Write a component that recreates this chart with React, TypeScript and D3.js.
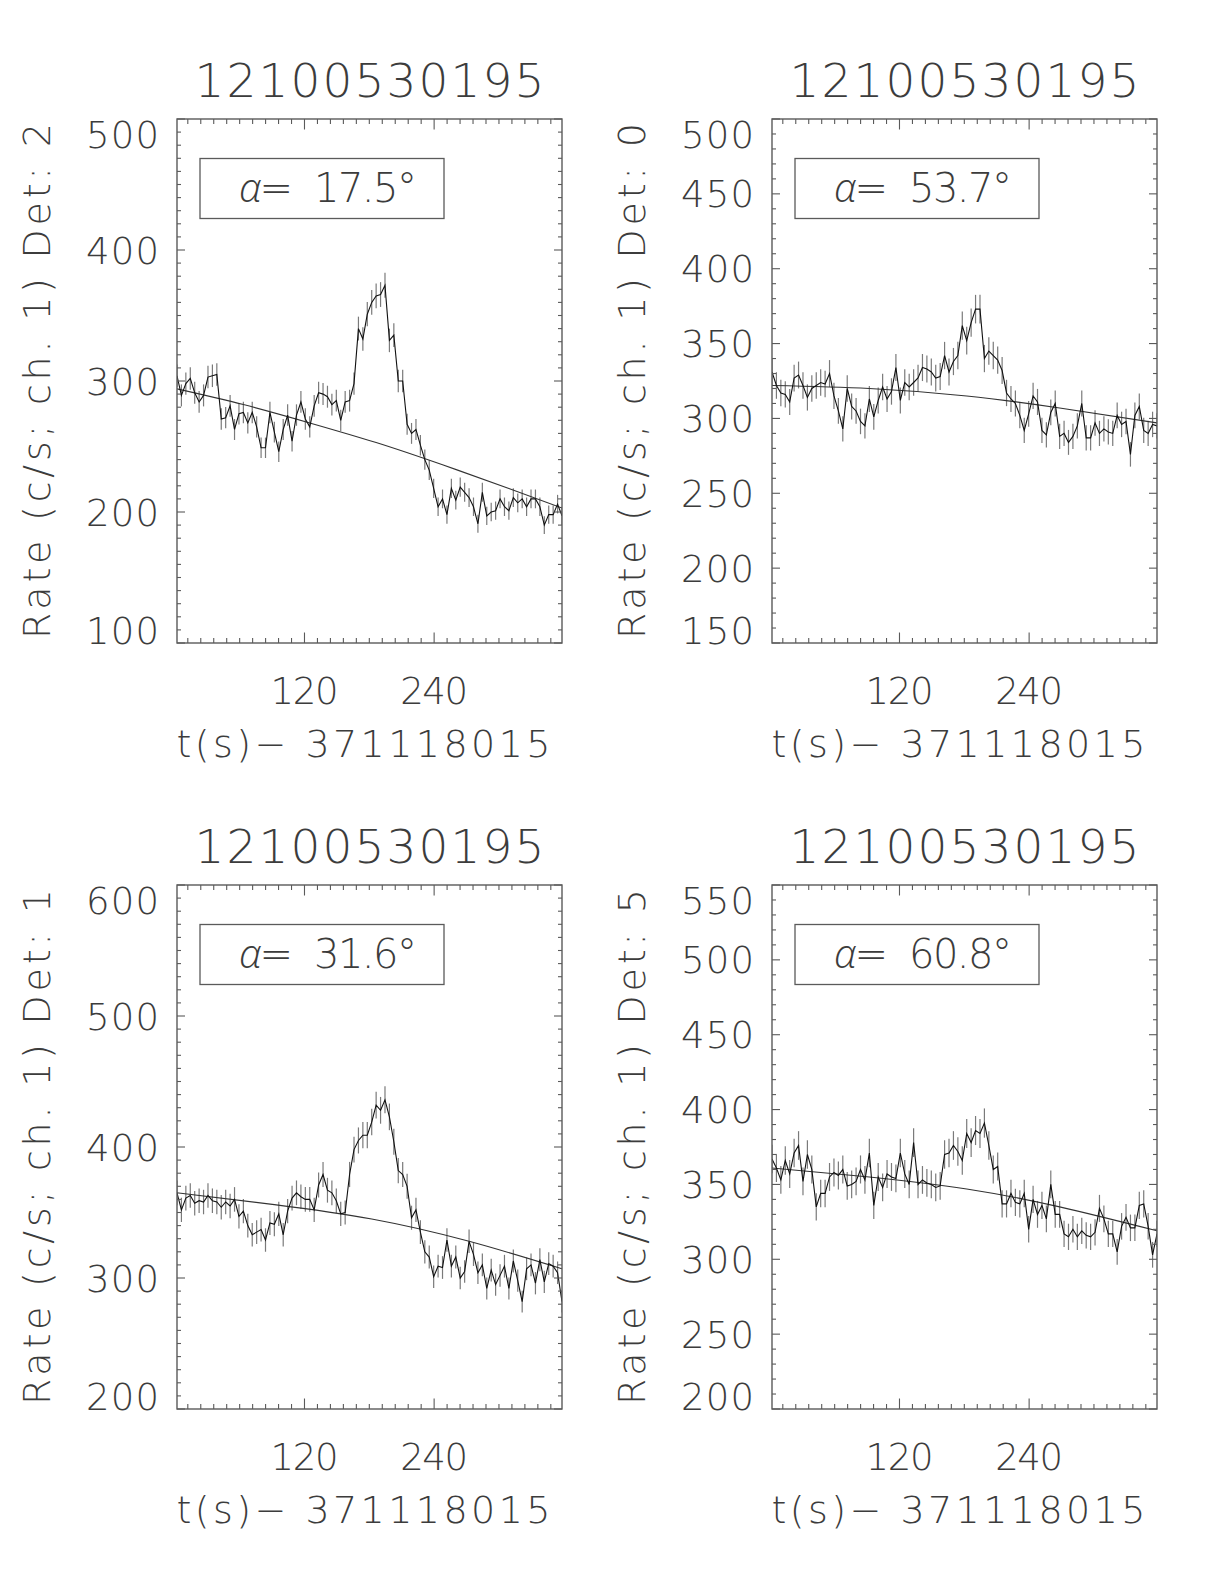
import React from 'react';
import * as d3 from 'd3';

// ---------- data ----------
const TITLE = '12100530195';
const X_TITLE = 't(s)\u2212\u00a0371118015';
const DETECTORS = ['2', '0', '1', '5'];
const ALPHAS = ['17.5', '53.7', '31.6', '60.8'];
const Y_DOMAINS: [number, number][] = [[100, 500], [150, 500], [200, 600], [200, 550]];
const Y_MAJOR_STEP = [100, 50, 100, 50];
const Y_MINOR_STEP = 10;
const X_MAJOR_TICKS = [120, 240];
const X_MINOR_STEP = 12;
const T0 = 2;
const BIN = 4.096;

const RATE_DET2 = [
  304, 289, 298, 302, 291, 284, 289, 303, 304, 305,
  271, 272, 281, 263, 275, 276, 268, 276, 265, 249,
  249, 276, 261, 246, 263, 274, 254, 274, 284, 271,
  265, 281, 291, 290, 288, 282, 285, 270, 284, 285,
  298, 340, 332, 351, 360, 365, 366, 373, 331, 335,
  300, 300, 267, 260, 263, 251, 240, 232, 218, 204,
  210, 198, 218, 209, 219, 215, 211, 204, 191, 215,
  197, 200, 201, 210, 204, 201, 211, 207, 210, 204,
  210, 210, 204, 190, 198, 198, 206, 197,
];
const RATE_DET0 = [
  331, 322, 317, 316, 311, 327, 329, 322, 314, 320,
  322, 324, 323, 330, 315, 305, 293, 320, 308, 305,
  298, 295, 313, 301, 312, 321, 313, 318, 334, 312,
  324, 321, 324, 327, 334, 333, 331, 327, 328, 342,
  331, 338, 342, 362, 352, 364, 373, 373, 340, 345,
  342, 339, 332, 317, 313, 310, 302, 292, 303, 315,
  311, 292, 289, 304, 310, 288, 290, 284, 288, 295,
  310, 287, 287, 297, 290, 293, 291, 290, 302, 296,
  298, 276, 302, 308, 292, 290, 296, 295,
];
const RATE_DET1 = [
  365, 352, 361, 363, 357, 359, 358, 363, 359, 358,
  354, 358, 355, 360, 347, 351, 340, 333, 335, 337,
  329, 342, 341, 349, 333, 351, 361, 365, 362, 360,
  360, 352, 371, 379, 367, 365, 359, 349, 350, 379,
  398, 405, 409, 409, 419, 432, 428, 436, 423, 404,
  382, 379, 370, 346, 352, 335, 320, 316, 301, 309,
  308, 329, 309, 316, 300, 305, 328, 318, 304, 310,
  292, 306, 295, 302, 309, 292, 313, 298, 282, 307,
  310, 296, 314, 297, 311, 309, 304, 282,
];
const RATE_DET5 = [
  367, 361, 353, 366, 357, 371, 376, 352, 370, 360,
  335, 344, 344, 355, 358, 356, 360, 349, 350, 352,
  360, 353, 371, 336, 355, 348, 357, 355, 354, 371,
  357, 350, 378, 350, 353, 351, 350, 348, 349, 370,
  371, 376, 372, 366, 384, 378, 386, 384, 391, 376,
  360, 362, 337, 337, 344, 338, 337, 344, 320, 340,
  330, 336, 327, 350, 330, 330, 317, 315, 320, 315,
  319, 316, 315, 318, 334, 327, 317, 317, 305, 322,
  328, 321, 321, 336, 337, 322, 303, 317,
];
const RATES = [RATE_DET2, RATE_DET0, RATE_DET1, RATE_DET5];

// background model read at a few bin indices
const MODEL_BINS_DET2 = [0, 15, 30, 45, 60, 75, 87];
const MODEL_DET2 = [294, 282, 268, 253, 236, 218, 203];
const MODEL_BINS_DET0 = [0, 22, 44, 65, 87];
const MODEL_DET0 = [322, 320, 315, 307, 297];
const MODEL_BINS_DET1 = [0, 22, 44, 66, 87];
const MODEL_DET1 = [365, 356, 345, 328, 307];
const MODEL_BINS_DET5 = [0, 22, 44, 65, 87];
const MODEL_DET5 = [361, 355, 347, 335, 319];
const MODEL_BINS = [MODEL_BINS_DET2, MODEL_BINS_DET0, MODEL_BINS_DET1, MODEL_BINS_DET5];
const MODELS = [MODEL_DET2, MODEL_DET0, MODEL_DET1, MODEL_DET5];

// ---------- layout ----------
const W = 1224;
const H = 1584;
const COL_LEFT = [177, 772];
const ROW_TOP = [119, 885];
const BOX_W = 385;
const BOX_H = 524;
const FONT = "'DejaVu Sans', 'Liberation Sans', sans-serif";
const TEXT_COLOR = '#3c3c3c';
const AXIS_COLOR = '#5a5a5a';

function Panel({ idx }: { idx: number }) {
  const left = COL_LEFT[idx % 2];
  const top = ROW_TOP[Math.floor(idx / 2)];
  const right = left + BOX_W;
  const bottom = top + BOX_H;
  const rates = RATES[idx];
  const times = rates.map((_, k) => T0 + BIN * k);
  const x = d3.scaleLinear().domain([T0, T0 + BIN * (rates.length - 1)]).range([left, right]);
  const y = d3.scaleLinear().domain(Y_DOMAINS[idx]).range([bottom, top]);

  const [y0, y1] = Y_DOMAINS[idx];
  const yMinor = d3.range(y0, y1 + 0.001, Y_MINOR_STEP);
  const yMajor = d3.range(y0, y1 + 0.001, Y_MAJOR_STEP[idx]);
  const [xd0, xd1] = x.domain();
  const xMinor = d3.range(Math.ceil(xd0 / X_MINOR_STEP) * X_MINOR_STEP, xd1, X_MINOR_STEP);

  const line = d3
    .line<number>()
    .x((_, i) => x(times[i]))
    .y((d) => y(d));
  const modelLine = d3
    .line<number>()
    .x((_, i) => x(T0 + BIN * MODEL_BINS[idx][i]))
    .y((d) => y(d))
    .curve(d3.curveNatural);

  const clipId = `clip${idx}`;
  const capH = 27;
  const yLabFs = 37;
  const ticks: any[] = [];
  yMinor.forEach((v, i) => {
    const yy = y(v);
    const isMajor = yMajor.some((m) => Math.abs(m - v) < 1e-6);
    const len = isMajor ? 8 : 4;
    ticks.push(<line key={`yl${i}`} x1={left} x2={left + len} y1={yy} y2={yy} />);
    ticks.push(<line key={`yr${i}`} x1={right} x2={right - len} y1={yy} y2={yy} />);
  });
  xMinor.forEach((v, i) => {
    const xx = x(v);
    const isMajor = X_MAJOR_TICKS.includes(v);
    const len = isMajor ? 10.5 : 5;
    ticks.push(<line key={`xb${i}`} x1={xx} x2={xx} y1={bottom} y2={bottom - len} />);
    ticks.push(<line key={`xt${i}`} x1={xx} x2={xx} y1={top} y2={top + len} />);
  });

  return (
    <g>
      <defs>
        <clipPath id={clipId}>
          <rect x={left} y={top} width={BOX_W} height={BOX_H} />
        </clipPath>
      </defs>
      {/* title */}
      <text
        x={(left + right) / 2}
        y={top - 22}
        textAnchor="middle"
        fontFamily={FONT}
        fontWeight={200}
        fontSize={47}
        textLength={350}
        lengthAdjust="spacing"
        fill={TEXT_COLOR}
      >
        {TITLE}
      </text>
      {/* data */}
      <g clipPath={`url(#${clipId})`}>
        {rates.map((r, i) => {
          const e = Math.sqrt(r / BIN);
          return (
            <line
              key={`e${i}`}
              x1={x(times[i])}
              x2={x(times[i])}
              y1={y(r - e)}
              y2={y(r + e)}
              stroke="#7a7a7a"
              strokeWidth={1.2}
            />
          );
        })}
        <path d={modelLine(MODELS[idx]) || ''} fill="none" stroke="#333" strokeWidth={1.1} />
        <path d={line(rates) || ''} fill="none" stroke="#111" strokeWidth={1.1} />
      </g>
      {/* box and ticks */}
      <rect x={left} y={top} width={BOX_W} height={BOX_H} fill="none" stroke={AXIS_COLOR} strokeWidth={1.4} />
      <g stroke={AXIS_COLOR} strokeWidth={1.1}>{ticks}</g>
      {/* y tick labels */}
      {yMajor.map((v) => {
        const base = Math.min(Math.max(y(v) + capH / 2, top + capH + 2), bottom + 1);
        return (
          <text
            key={`yt${v}`}
            x={left - 18}
            y={base}
            textAnchor="end"
            fontFamily={FONT}
            fontWeight={200}
            fontSize={yLabFs}
            textLength={73}
            lengthAdjust="spacing"
            fill={TEXT_COLOR}
          >
            {v}
          </text>
        );
      })}
      {/* x tick labels */}
      {X_MAJOR_TICKS.map((v) => (
        <text
          key={`xtl${v}`}
          x={x(v)}
          y={bottom + 61}
          textAnchor="middle"
          fontFamily={FONT}
          fontWeight={200}
          fontSize={yLabFs}
          textLength={68}
          lengthAdjust="spacing"
          fill={TEXT_COLOR}
        >
          {v}
        </text>
      ))}
      {/* x title */}
      <text
        x={(left + right) / 2 - 6}
        y={bottom + 114}
        textAnchor="middle"
        fontFamily={FONT}
        fontWeight={200}
        fontSize={38}
        textLength={374}
        lengthAdjust="spacing"
        fill={TEXT_COLOR}
      >
        {X_TITLE}
      </text>
      {/* y title */}
      <text
        transform={`translate(${left - 127},${(top + bottom) / 2}) rotate(-90)`}
        textAnchor="middle"
        fontFamily={FONT}
        fontWeight={200}
        fontSize={38}
        textLength={516}
        lengthAdjust="spacing"
        fill={TEXT_COLOR}
      >
        {`Rate (c/s; ch. 1) Det: ${DETECTORS[idx]}`}
      </text>
      {/* alpha box */}
      <rect x={left + 23} y={top + 39.5} width={244} height={60} fill="none" stroke={AXIS_COLOR} strokeWidth={1.3} />
      <text
        x={left + 62}
        y={top + 83}
        fontFamily={FONT}
        fontWeight={200}
        fontSize={40}
        fill={TEXT_COLOR}
        textLength={178}
        lengthAdjust="spacing"
      >
        <tspan fontStyle="italic" fontFamily="'Open Sans', 'DejaVu Sans', sans-serif" fontWeight={300}>
          α
        </tspan>
        {`=\u00a0\u00a0${ALPHAS[idx]}°`}
      </text>
    </g>
  );
}

export default function App() {
  return (
    <svg
      width={W}
      height={H}
      viewBox={`0 0 ${W} ${H}`}
      style={{ position: 'absolute', left: 0, top: 0, background: '#fff' }}
    >
      <rect x={0} y={0} width={W} height={H} fill="#fff" />
      {[0, 1, 2, 3].map((i) => (
        <Panel key={i} idx={i} />
      ))}
    </svg>
  );
}
